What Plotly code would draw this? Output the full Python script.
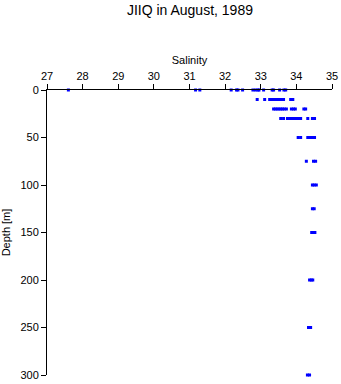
import plotly.graph_objects as go

# Depth levels [m]
depths = [0, 10, 20, 30, 50, 75, 100, 125, 150, 200, 250, 300]

# Salinity samples observed at each depth level
sal_0 = [27.60, 31.17, 31.29, 32.17, 32.32, 32.36, 32.49, 32.78, 32.85, 32.92, 32.95,
         33.08, 33.32, 33.36, 33.53, 33.65, 33.70]
sal_10 = [32.90, 33.11, 33.25, 33.30, 33.35, 33.40, 33.45, 33.50, 33.55, 33.60, 33.64,
          33.84, 33.90]
sal_20 = [33.36, 33.41, 33.46, 33.51, 33.56, 33.61, 33.66, 33.72, 33.86, 33.92, 33.97,
          34.21, 34.26]
sal_30 = [33.56, 33.64, 33.75, 33.80, 33.85, 33.90, 33.95, 34.00, 34.05, 34.10, 34.12,
          34.32, 34.45, 34.51]
sal_50 = [34.05, 34.12, 34.32, 34.37, 34.42, 34.47, 34.51]
sal_75 = [34.28, 34.48, 34.54]
sal_100 = [34.45, 34.50, 34.56]
sal_125 = [34.45, 34.50]
sal_150 = [34.43, 34.48, 34.52]
sal_200 = [34.37, 34.42, 34.46]
sal_250 = [34.34, 34.40]
sal_300 = [34.31, 34.37]

levels = [sal_0, sal_10, sal_20, sal_30, sal_50, sal_75, sal_100, sal_125,
          sal_150, sal_200, sal_250, sal_300]

xs, ys = [], []
for d, vals in zip(depths, levels):
    for v in vals:
        xs.append(v)
        ys.append(d)

FONT = "Liberation Sans, Arial, Helvetica, sans-serif"

fig = go.Figure()
fig.add_trace(go.Scatter(
    x=xs, y=ys, mode="markers",
    marker=dict(symbol="square", size=3, color="#0000ff", line=dict(width=0)),
    showlegend=False, cliponaxis=False,
))

fig.update_layout(
    width=341, height=384,
    margin=dict(l=47, r=9, t=90, b=9),
    paper_bgcolor="white", plot_bgcolor="white",
    font=dict(family=FONT, size=11, color="black"),
    title=dict(text="JIIQ in August, 1989", x=0.557, xanchor="center",
               y=0.974, yanchor="middle", font=dict(family=FONT, size=14, color="black")),
    xaxis=dict(
        side="top", range=[27, 35], dtick=1, tick0=27, automargin=False,
        showline=True, linecolor="black", linewidth=1,
        ticks="outside", ticklen=5, tickcolor="black", tickwidth=1,
        showgrid=False, zeroline=False,
        title=dict(text="Salinity", font=dict(size=11), standoff=2),
        tickfont=dict(size=11),
    ),
    yaxis=dict(
        range=[300, 0], dtick=50, tick0=0, automargin=False,
        showline=True, linecolor="black", linewidth=1,
        ticks="outside", ticklen=5, tickcolor="black", tickwidth=1,
        showgrid=False, zeroline=False,
        title=dict(text="Depth [m]", font=dict(size=11), standoff=9),
        tickfont=dict(size=11),
    ),
)

fig.write_html("out.html")
